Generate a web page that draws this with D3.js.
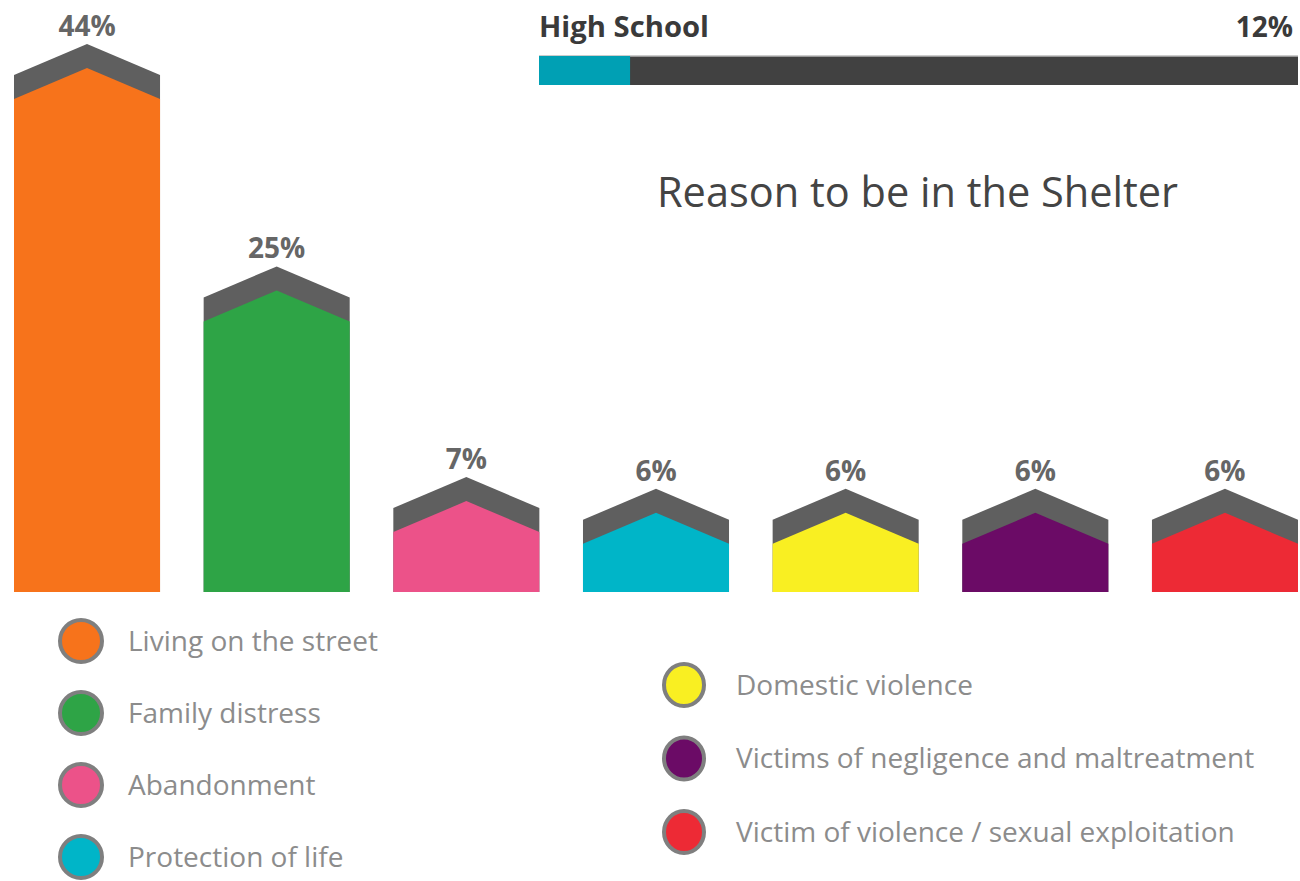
<!DOCTYPE html>
<html><head><meta charset="utf-8">
<script src="https://cdn.jsdelivr.net/npm/d3@7"></script>
<style>body{margin:0;background:#fff}svg{display:block}</style>
</head><body>
<svg id="c" width="1300" height="881"></svg>
<script>
const categories = ["Living on the street","Family distress","Abandonment","Protection of life","Domestic violence","Victims of negligence and maltreatment","Victim of violence / sexual exploitation"];
const values = [44,25,7,6,6,6,6];
const colors = ["#f7731b","#2ea446","#ec5289","#00b5c8","#f9ef22","#6b0b66","#ed2a35"];
const progressLabel = "High School";
const progressValue = 12;
const title = "Reason to be in the Shelter";

const svg = d3.select("#c");
const font = "'Open Sans', sans-serif";
const base = 592;
const x = d3.scaleBand().domain(categories).range([14,1298]).paddingInner(0.23).paddingOuter(0);
const y = d3.scaleLinear().domain([0,44]).range([base-2,75]);
const roofH = 31, band = 24;

const g = svg.append("g");
const bars = g.selectAll("g.bar").data(categories).join("g").attr("class","bar");
function roof(i, off){
  const x0 = x(categories[i]), w = x.bandwidth(), ys = y(values[i]) + off;
  return [[x0, base],[x0, ys],[x0+w/2, ys-roofH],[x0+w, ys],[x0+w, base]];
}
bars.append("path").attr("fill","#5f5f5f")
  .attr("d",(d,i)=>d3.line()(roof(i,0))+"Z");
bars.append("path").attr("fill",(d,i)=>colors[i])
  .attr("d",(d,i)=>d3.line()(roof(i,band))+"Z");
bars.append("text")
  .attr("x",d=>x(d)+x.bandwidth()/2)
  .attr("y",(d,i)=>y(values[i])-roofH-8)
  .attr("text-anchor","middle").attr("font-family",font).attr("font-weight","bold")
  .attr("font-size",28).attr("fill","#666")
  .text((d,i)=>values[i]+"%");

// progress bar
const px = d3.scaleLinear().domain([0,100]).range([539,1298]);
svg.append("rect").attr("x",px(0)).attr("y",56).attr("width",px(100)-px(0)).attr("height",29).attr("fill","#414141");
svg.append("rect").attr("x",px(0)).attr("y",55.5).attr("width",px(100)-px(0)).attr("height",1.5).attr("fill","#9a9a9a");
svg.append("rect").attr("x",px(0)).attr("y",56).attr("width",px(progressValue)-px(0)).attr("height",29).attr("fill","#00a0b4");
svg.append("text").attr("x",539).attr("y",37).attr("font-family",font).attr("font-weight","bold")
  .attr("font-size",29).attr("fill","#3a3a3a").attr("textLength",170).attr("lengthAdjust","spacingAndGlyphs").text(progressLabel);
svg.append("text").attr("x",1293).attr("y",37).attr("text-anchor","end").attr("font-family",font).attr("font-weight","bold")
  .attr("font-size",28).attr("fill","#3a3a3a").text(progressValue+"%");

svg.append("text").attr("x",657).attr("y",207).attr("font-family",font)
  .attr("font-size",41.5).attr("fill","#444").text(title);

// legend
const leg = svg.append("g");
const items = leg.selectAll("g").data(categories).join("g")
  .attr("transform",(d,i)=> i<4 ? `translate(81,${641+i*72})` : `translate(684,${685+(i-4)*73.5})`);
items.append("ellipse").attr("rx",(d,i)=>i<4?21:20).attr("ry",21)
  .attr("fill",(d,i)=>colors[i]).attr("stroke","#7f7f7f").attr("stroke-width",4);
items.append("text").attr("x",(d,i)=>i<4?47:52).attr("dy","0.35em")
  .attr("font-family",font).attr("font-size",28).attr("fill","#8c8c8c").text(d=>d);
</script>
</body></html>
